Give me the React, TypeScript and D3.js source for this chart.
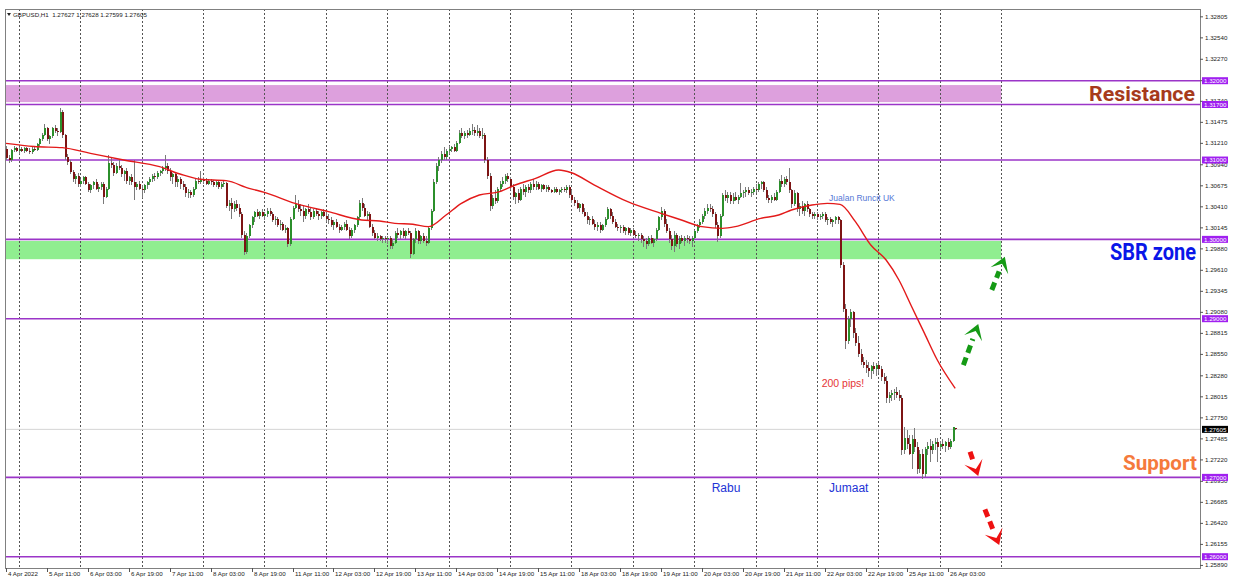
import { useEffect, useRef } from 'react';
import * as d3 from 'd3';

// GBPUSD H1, prices in pips relative to 1.30000: [open, high, low, close]
const candles: [number, number, number, number][] = [
  [114,118,100,102],[102,106,96,100],[100,114,98,113],[113,118,110,115],[115,117,110,112],
  [112,116,108,114],[114,117,110,111],[111,116,109,115],[115,117,110,112],[112,115,108,110],
  [110,116,108,114],[114,118,111,113],[113,122,112,120],[120,128,118,126],[126,134,124,132],
  [132,145,130,140],[140,142,124,126],[126,132,120,130],[130,142,128,140],[140,144,134,136],
  [136,140,130,135],[135,166,134,160],[160,163,128,131],[131,133,100,104],[104,108,94,98],
  [98,100,82,85],[85,88,72,76],[76,82,70,80],[80,84,66,70],[70,76,66,74],
  [74,80,70,78],[78,80,68,70],[70,72,60,62],[62,70,58,68],[68,74,64,72],
  [72,76,62,64],[64,70,60,66],[66,72,62,70],[70,72,45,54],[54,66,52,64],
  [64,106,62,96],[96,104,90,94],[94,98,80,84],[84,96,82,92],[92,101,88,90],
  [90,94,78,82],[82,88,74,86],[86,90,70,74],[74,80,68,78],[78,82,68,72],
  [72,100,50,66],[66,72,62,70],[70,74,62,64],[64,68,52,62],[62,70,58,68],
  [68,74,64,72],[72,78,68,76],[76,82,72,80],[80,84,74,78],[78,86,76,84],
  [84,88,80,86],[86,92,82,90],[90,106,86,92],[92,96,82,86],[86,90,74,78],
  [78,84,70,82],[82,84,66,72],[72,80,66,76],[76,78,64,70],[70,74,62,66],
  [66,70,54,58],[58,64,52,60],[60,62,52,56],[56,66,54,64],[64,76,62,74],
  [74,78,70,72],[72,86,70,76],[76,78,70,74],[74,77,68,70],[70,76,68,74],
  [74,76,68,72],[72,75,66,68],[68,74,66,72],[72,74,64,66],[66,72,64,70],
  [70,74,66,71],[71,72,40,42],[42,50,36,46],[46,52,26,38],[38,48,34,44],
  [44,50,36,40],[40,44,28,32],[32,34,2,6],[6,10,-20,-16],[-16,8,-18,4],
  [4,20,2,18],[18,30,14,28],[28,36,22,34],[34,38,28,30],[30,36,26,34],
  [34,38,28,30],[30,34,24,32],[32,40,28,36],[36,39,30,32],[32,34,22,24],
  [24,30,18,26],[26,28,16,18],[18,24,12,20],[20,22,10,12],[12,18,8,14],
  [14,16,-10,-6],[-6,28,-8,26],[26,42,24,40],[40,56,38,44],[44,50,34,38],
  [38,44,30,36],[36,42,22,30],[30,40,26,38],[38,44,32,34],[34,40,24,28],
  [28,38,26,36],[36,40,30,32],[32,36,24,30],[30,36,26,34],[34,38,28,30],
  [30,34,22,26],[26,32,20,24],[24,28,16,18],[18,24,12,22],[22,26,14,16],
  [16,20,8,12],[12,18,10,16],[16,22,12,20],[20,24,10,12],[12,16,0,4],
  [4,14,2,12],[12,20,8,18],[18,30,16,28],[28,50,26,46],[46,52,36,40],
  [40,44,28,30],[30,36,24,32],[32,34,14,16],[16,20,4,8],[8,12,0,2],
  [2,8,-2,4],[4,6,-2,0],[0,4,-4,2],[2,4,-4,0],[0,4,-6,2],
  [2,4,-12,-8],[-8,0,-12,-4],[-4,10,-6,8],[8,14,2,6],[6,12,0,10],
  [10,14,2,4],[4,12,0,10],[10,14,6,8],[8,10,-24,-18],[-18,2,-20,0],
  [0,14,-4,10],[10,12,-6,-2],[-2,6,-6,4],[4,8,-4,-2],[-2,4,-8,-4],
  [-4,16,-6,14],[14,38,12,36],[36,76,34,72],[72,96,70,92],[92,104,86,100],
  [100,112,96,108],[108,116,100,104],[104,114,100,112],[112,118,108,114],[114,118,110,116],
  [116,120,110,112],[112,124,110,122],[122,138,120,134],[134,140,128,130],[130,136,126,134],
  [134,138,128,132],[132,140,130,136],[136,146,132,138],[138,142,130,134],[134,144,130,136],
  [136,140,128,130],[130,140,126,132],[132,134,96,100],[100,104,76,80],[80,84,36,42],
  [42,56,38,52],[52,62,44,48],[48,66,46,64],[64,74,60,70],[70,78,66,74],
  [74,83,70,80],[80,84,72,76],[76,78,62,66],[66,70,50,54],[54,60,44,58],
  [58,64,46,50],[50,66,48,64],[64,70,56,60],[60,68,54,66],[66,70,58,62],
  [62,72,58,70],[70,76,62,66],[66,74,62,70],[70,72,62,64],[64,70,60,68],
  [68,70,62,64],[64,68,60,66],[66,68,60,62],[62,64,58,60],[60,66,58,64],
  [64,66,58,60],[60,64,56,62],[62,66,58,64],[64,66,60,62],[62,68,58,66],
  [66,68,52,56],[56,62,46,50],[50,54,42,46],[46,50,38,40],[40,46,34,44],
  [44,46,32,34],[34,40,28,30],[30,34,20,24],[24,28,18,26],[26,30,18,20],
  [20,24,12,16],[16,22,10,18],[18,22,8,12],[12,20,10,18],[18,28,16,26],
  [26,41,24,38],[38,40,26,30],[30,34,20,22],[22,26,14,16],[16,20,10,14],
  [14,18,8,16],[16,18,8,10],[10,16,6,14],[14,16,6,8],[8,14,4,12],
  [12,14,4,6],[6,10,2,4],[4,8,-2,6],[6,8,-4,0],[0,4,-10,-2],
  [-2,2,-12,-6],[-6,4,-8,2],[2,6,-6,-4],[-4,2,-10,0],[0,14,-2,12],
  [12,30,10,28],[28,41,24,36],[36,38,16,20],[20,26,8,10],[10,14,-4,0],
  [0,6,-14,-8],[-8,10,-16,6],[6,8,-10,-6],[-6,4,-12,2],[2,6,-4,-2],
  [-2,4,-8,2],[2,6,-4,0],[0,4,-6,-2],[-2,4,-10,2],[2,12,0,10],
  [10,20,8,18],[18,26,14,22],[22,32,20,30],[30,40,26,36],[36,44,32,40],
  [40,44,34,38],[38,42,28,32],[32,34,14,18],[18,22,-3,4],[4,32,2,30],
  [30,58,28,56],[56,62,48,52],[52,60,46,56],[56,60,44,48],[48,58,44,54],
  [54,60,48,50],[50,56,44,54],[54,71,52,58],[58,62,52,60],[60,66,54,62],
  [62,66,56,58],[58,64,54,60],[60,66,56,64],[64,70,58,62],[62,72,60,70],
  [70,74,64,72],[72,74,60,62],[62,66,50,52],[52,56,46,50],[50,56,46,54],
  [54,58,48,50],[50,62,48,60],[60,76,58,74],[74,81,66,70],[70,78,66,76],
  [76,80,68,72],[72,90,58,62],[62,64,40,44],[44,62,42,58],[58,60,34,38],
  [38,46,30,42],[42,48,32,36],[36,46,30,44],[44,48,34,38],[38,40,28,32],
  [32,34,26,30],[30,34,26,32],[32,34,24,28],[28,32,24,30],[30,34,26,32],
  [32,34,22,24],[24,28,18,26],[26,28,20,22],[22,26,16,24],[24,30,20,28],
  [28,30,20,24],[24,26,-36,-32],[-32,-28,-92,-88],[-88,-82,-138,-128],[-128,-96,-132,-100],
  [-100,-88,-110,-92],[-92,-90,-124,-118],[-118,-112,-134,-130],[-130,-122,-148,-144],[-144,-138,-158,-154],
  [-154,-148,-162,-158],[-158,-152,-168,-162],[-162,-154,-174,-166],[-166,-158,-176,-160],[-160,-154,-170,-164],
  [-164,-156,-172,-158],[-158,-154,-168,-164],[-164,-160,-178,-174],[-174,-168,-182,-178],[-178,-172,-206,-200],
  [-200,-192,-206,-196],[-196,-190,-204,-194],[-194,-188,-202,-192],[-192,-186,-200,-196],[-196,-190,-204,-200],
  [-200,-196,-272,-266],[-266,-236,-270,-251],[-251,-240,-264,-258],[-258,-246,-272,-270],[-270,-246,-290,-252],
  [-252,-238,-268,-262],[-262,-256,-296,-290],[-290,-266,-294,-270],[-270,-264,-302,-296],[-296,-262,-300,-264],
  [-264,-256,-272,-260],[-260,-252,-280,-266],[-266,-254,-270,-258],[-258,-250,-266,-256],[-256,-250,-280,-262],
  [-262,-254,-266,-258],[-258,-252,-264,-260],[-260,-254,-268,-256],[-256,-250,-266,-262],[-262,-252,-264,-254],
  [-254,-237,-256,-237],[-237.3,-237.2,-240.1,-239.5],
];

// moving average (bar index, pips from 1.30000)
const maBars = [0, 11, 22, 33, 46, 60, 68, 76, 86, 95, 101, 113, 126, 139, 146, 152, 159, 165, 172, 178, 185, 193, 199, 207, 216, 221, 230, 243, 256, 264, 272, 280, 285, 295, 302, 307, 315, 321, 326, 332, 338, 344, 349, 354, 359, 364, 371];
const maPips = [121, 117, 115.6, 108.4, 100, 91.6, 82.4, 75.7, 74, 64.3, 59.3, 45.4, 34.9, 24.4, 23.1, 20.2, 19, 16, 30.7, 45.4, 55.9, 60.1, 68.5, 76.9, 87.4, 84, 68.5, 47.5, 32.8, 24.4, 16, 13.9, 16, 26.5, 30.7, 37, 43.3, 45.4, 44.1, 22.3, -7.1, -26, -51.2, -84.9, -118.5, -152.1, -187.8];

const timeLabels = ['4 Apr 2022', '5 Apr 11:00', '6 Apr 03:00', '6 Apr 19:00', '7 Apr 11:00', '8 Apr 03:00', '8 Apr 19:00', '11 Apr 11:00', '12 Apr 03:00', '12 Apr 19:00', '13 Apr 11:00', '14 Apr 03:00', '14 Apr 19:00', '15 Apr 11:00', '18 Apr 03:00', '18 Apr 19:00', '19 Apr 11:00', '20 Apr 03:00', '20 Apr 19:00', '21 Apr 11:00', '22 Apr 03:00', '22 Apr 19:00', '25 Apr 11:00', '26 Apr 03:00'];
const priceTicks = [1.32805, 1.3254, 1.3227, 1.32, 1.3174, 1.31475, 1.3121, 1.3094, 1.30675, 1.3041, 1.30145, 1.2988, 1.2961, 1.29345, 1.2908, 1.28815, 1.2855, 1.2828, 1.28015, 1.2775, 1.27485, 1.2722, 1.2695, 1.26685, 1.2642, 1.26155, 1.2589];
const levelLines = [1.32, 1.317, 1.31, 1.3, 1.29, 1.27, 1.26];
const resistanceZone = [1.3173, 1.31945];
const sbrZone = [1.2975, 1.2998];
const currentPrice = 1.27605;
const title = 'GBPUSD,H1  1.27627 1.27628 1.27599 1.27605';

// arrows: [fromBar, fromPips, toBar, toPips]
const upArrows = [[374.2, -158.4, 380, -106.7], [385.3, -63.8, 390.4, -21.9]];
const downArrows = [[376.8, -267.7, 380, -298.3], [382.6, -340.3, 388.2, -385.3]];

const smallFont = '"Liberation Sans", Arial, sans-serif';

export default function App() {
  const svgRef = useRef<SVGSVGElement>(null);

  useEffect(() => {
    if (!svgRef.current) return;
    document.body.style.margin = '0';

    const width = 1238;
    const height = 579;
    const plot = { left: 5, right: 1200, top: 9, bottom: 568 };
    const barStep = 2.5585;

    const svg = d3.select(svgRef.current);
    svg.selectAll('*').remove();
    svg.attr('width', width).attr('height', height);

    const x = d3.scaleLinear().domain([0, 466]).range([6, 6 + 466 * barStep]);
    const y = d3.scaleLinear().domain([1.26, 1.32]).range([556.7, 80.7]);
    const fromPips = (p: number) => 1.3 + p / 10000;
    const zoneEnd = x(389);

    svg.append('rect').attr('width', width).attr('height', height).attr('fill', '#fff');

    // zones
    svg.append('rect')
      .attr('x', plot.left).attr('width', zoneEnd - plot.left)
      .attr('y', y(resistanceZone[1])).attr('height', y(resistanceZone[0]) - y(resistanceZone[1]))
      .attr('fill', '#dda0dd');
    svg.append('rect')
      .attr('x', plot.left).attr('width', zoneEnd - plot.left)
      .attr('y', y(sbrZone[1])).attr('height', y(sbrZone[0]) - y(sbrZone[1]))
      .attr('fill', '#90ee90');

    // daily separators
    svg.append('g').selectAll('line')
      .data(d3.range(17))
      .enter()
      .append('line')
      .attr('x1', k => Math.round(x(5 + 24 * k)) + 0.5)
      .attr('x2', k => Math.round(x(5 + 24 * k)) + 0.5)
      .attr('y1', plot.top)
      .attr('y2', plot.bottom)
      .attr('stroke', '#555')
      .attr('stroke-dasharray', '2,2');

    // current price line
    svg.append('line')
      .attr('x1', plot.left).attr('x2', plot.right)
      .attr('y1', y(currentPrice)).attr('y2', y(currentPrice))
      .attr('stroke', '#d4d4d4').attr('stroke-width', 1);

    // horizontal levels
    svg.append('g').selectAll('line')
      .data(levelLines)
      .enter()
      .append('line')
      .attr('x1', plot.left).attr('x2', plot.right)
      .attr('y1', d => y(d)).attr('y2', d => y(d))
      .attr('stroke', '#9b35c8').attr('stroke-width', 1.6);

    // candles
    const cg = svg.append('g').attr('shape-rendering', 'crispEdges');
    candles.forEach(([o, h, l, c], i) => {
      const cx = Math.round(x(i));
      cg.append('line')
        .attr('x1', cx + 0.5).attr('x2', cx + 0.5)
        .attr('y1', y(fromPips(h))).attr('y2', y(fromPips(l)))
        .attr('stroke', '#7a7a7a');
      const top = y(fromPips(Math.max(o, c)));
      const bot = y(fromPips(Math.min(o, c)));
      cg.append('rect')
        .attr('x', cx - 0.5).attr('width', 2)
        .attr('y', top).attr('height', Math.max(1, bot - top))
        .attr('fill', c >= o ? '#2b8f2b' : '#7d1414');
    });

    // moving average
    const ma = d3.line<number>()
      .x((_, i) => x(maBars[i]))
      .y(d => y(fromPips(d)))
      .curve(d3.curveMonotoneX);
    svg.append('path')
      .attr('d', ma(maPips) as string)
      .attr('fill', 'none')
      .attr('stroke', '#e31a1a')
      .attr('stroke-width', 1.4);

    // frame
    svg.append('rect')
      .attr('x', plot.left + 0.5).attr('y', plot.top + 0.5)
      .attr('width', plot.right - plot.left).attr('height', plot.bottom - plot.top)
      .attr('fill', 'none').attr('stroke', '#808080');

    // right price axis
    const ra = svg.append('g').style('font-family', smallFont).style('font-size', '6.2px');
    priceTicks.forEach(v => {
      ra.append('line').attr('x1', plot.right).attr('x2', plot.right + 3)
        .attr('y1', y(v)).attr('y2', y(v)).attr('stroke', '#555');
      ra.append('text').attr('x', plot.right + 5).attr('y', y(v) + 2).attr('fill', '#222')
        .text(v.toFixed(5));
    });
    const tags = levelLines.map(v => ({ v, bg: '#a020f0' })).concat([{ v: currentPrice, bg: '#000' }]);
    tags.forEach(t => {
      ra.append('rect').attr('x', plot.right + 2).attr('y', y(t.v) - 3.5)
        .attr('width', 26).attr('height', 7).attr('fill', t.bg);
      ra.append('text').attr('x', plot.right + 4).attr('y', y(t.v) + 2.2)
        .attr('fill', '#fff').text(t.v.toFixed(5));
    });

    // bottom time axis
    const ba = svg.append('g').style('font-family', smallFont).style('font-size', '6.2px');
    timeLabels.forEach((label, k) => {
      const tx = Math.round(x(k * 16)) + 0.5;
      ba.append('line').attr('x1', tx).attr('x2', tx)
        .attr('y1', plot.bottom).attr('y2', plot.bottom + 4).attr('stroke', '#555');
      ba.append('text').attr('x', tx + 1.5).attr('y', 576).attr('fill', '#222').text(label);
    });

    // title
    svg.append('path').attr('d', 'M7,13 L11,13 L9,16 Z').attr('fill', '#222');
    svg.append('text').attr('x', 13).attr('y', 17)
      .style('font-family', smallFont).style('font-size', '6.2px').attr('fill', '#222')
      .attr('xml:space', 'preserve').text(title);

    // notes on the chart
    svg.append('text').attr('x', x(321.7)).attr('y', y(fromPips(48.3)))
      .style('font-family', smallFont).style('font-size', '8.5px').attr('fill', '#5577d6')
      .text('Jualan Runcit UK');
    svg.append('text').attr('x', x(318.8)).attr('y', y(fromPips(-186)))
      .style('font-family', smallFont).style('font-size', '10.5px').attr('fill', '#e53535')
      .text('200 pips!');
    svg.append('text').attr('x', x(275.8)).attr('y', y(1.27) + 14.5)
      .style('font-family', smallFont).style('font-size', '12px').attr('fill', '#2233d6')
      .text('Rabu');
    svg.append('text').attr('x', x(321.7)).attr('y', y(1.27) + 14.5)
      .style('font-family', smallFont).style('font-size', '12px').attr('fill', '#2233d6')
      .text('Jumaat');

    const bigLabel = (txt: string, x0: number, yb: number, size: number, len: number, color: string) => {
      svg.append('text').attr('x', x0).attr('y', yb)
        .style('font-family', 'Roboto, "Liberation Sans", sans-serif')
        .style('font-weight', '700').style('font-size', `${size}px`)
        .attr('textLength', len).attr('lengthAdjust', 'spacingAndGlyphs')
        .attr('fill', color).text(txt);
    };
    bigLabel('Resistance', 1089, y(1.317) - 4, 21, 106, '#a63a1c');
    bigLabel('SBR zone', 1110, y(1.3) + 21, 24, 86, '#0a16e8');
    bigLabel('Support', 1123, y(1.27) - 7, 21, 74, '#f57a3c');

    // dashed arrows
    const arrow = (a: number[], color: string) => {
      const x0 = x(a[0]);
      const y0 = y(fromPips(a[1]));
      const x1 = x(a[2]);
      const y1 = y(fromPips(a[3]));
      const len = Math.hypot(x1 - x0, y1 - y0);
      const ux = (x1 - x0) / len;
      const uy = (y1 - y0) / len;
      const nx = -uy;
      const ny = ux;
      const head = 15;
      const half = 9.5;
      svg.append('line')
        .attr('x1', x0).attr('y1', y0)
        .attr('x2', x1 - ux * head * 1.05).attr('y2', y1 - uy * head * 1.05)
        .attr('stroke', color).attr('stroke-width', 5).attr('stroke-dasharray', '8,5');
      const pts = [
        [x1, y1],
        [x1 - ux * head + nx * half, y1 - uy * head + ny * half],
        [x1 - ux * head * 0.5, y1 - uy * head * 0.5],
        [x1 - ux * head - nx * half, y1 - uy * head - ny * half],
      ];
      svg.append('polygon').attr('points', pts.map(p => p.join(',')).join(' ')).attr('fill', color);
    };
    upArrows.forEach(a => arrow(a, '#159a15'));
    downArrows.forEach(a => arrow(a, '#ee1111'));
  }, []);

  return <svg ref={svgRef} style={{ display: 'block' }}></svg>;
}
